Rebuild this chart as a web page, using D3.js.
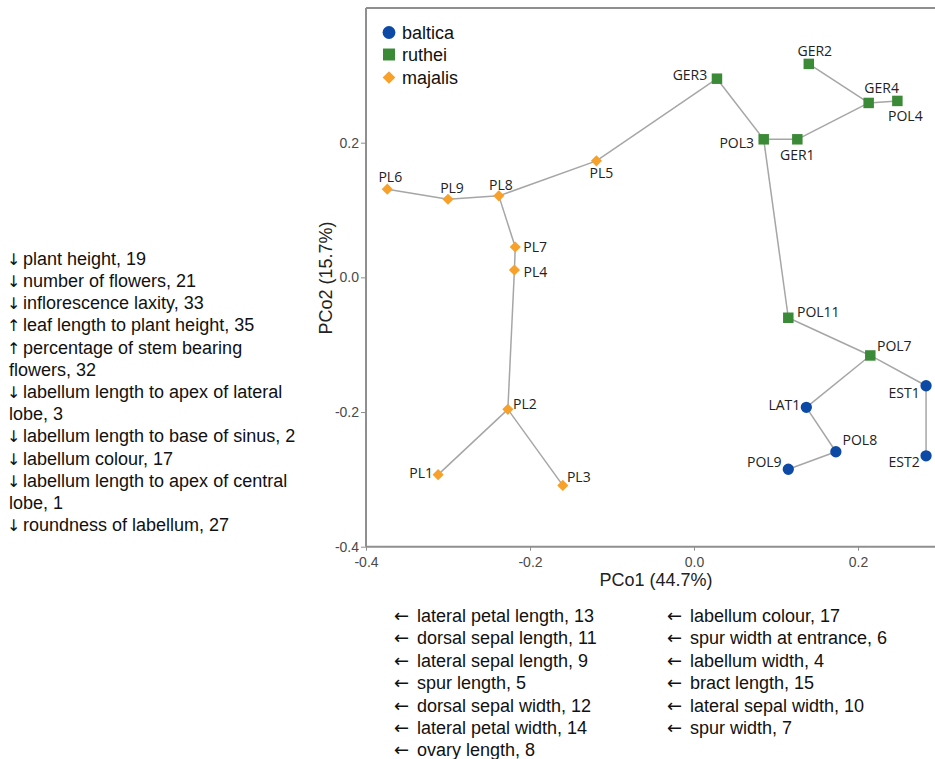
<!DOCTYPE html>
<html>
<head>
<meta charset="utf-8">
<script src="https://d3js.org/d3.v7.min.js"></script>
<style>
  body { margin: 0; background: #fff; }
  svg { display: block; }
</style>
</head>
<body>
<script>
// site labels, species and PCo scores
var sites   = ["PL6", "PL9", "PL8", "PL5", "PL7", "PL4", "PL2", "PL1", "PL3",
               "GER3", "GER2", "GER4", "POL4", "POL3", "GER1", "POL11", "POL7",
               "EST1", "EST2", "LAT1", "POL8", "POL9"];
var species = ["majalis", "majalis", "majalis", "majalis", "majalis", "majalis", "majalis", "majalis", "majalis",
               "ruthei", "ruthei", "ruthei", "ruthei", "ruthei", "ruthei", "ruthei", "ruthei",
               "baltica", "baltica", "baltica", "baltica", "baltica"];
var pco1 = [-0.374, -0.300, -0.238, -0.119, -0.218, -0.219, -0.227, -0.312, -0.160,
             0.028, 0.140, 0.213, 0.248, 0.085, 0.126, 0.115, 0.215,
             0.283, 0.283, 0.137, 0.173, 0.115];
var pco2 = [ 0.131, 0.116, 0.121, 0.173, 0.045, 0.011, -0.196, -0.293, -0.309,
             0.295, 0.317, 0.259, 0.262, 0.205, 0.205, -0.060, -0.116,
            -0.161, -0.265, -0.193, -0.259, -0.285];

// minimum spanning tree links
var links = [["PL6", "PL9"], ["PL9", "PL8"], ["PL8", "PL5"], ["PL5", "GER3"], ["GER3", "POL3"],
             ["POL3", "GER1"], ["GER1", "GER4"], ["GER4", "GER2"], ["GER4", "POL4"],
             ["POL3", "POL11"], ["POL11", "POL7"], ["POL7", "LAT1"], ["POL7", "EST1"],
             ["EST1", "EST2"], ["LAT1", "POL8"], ["POL8", "POL9"],
             ["PL8", "PL7"], ["PL7", "PL4"], ["PL4", "PL2"], ["PL2", "PL1"], ["PL2", "PL3"]];

var legendKeys = ["baltica", "ruthei", "majalis"];
var xTicks = [-0.4, -0.2, 0.0, 0.2];
var yTicks = [-0.4, -0.2, 0.0, 0.2];

var leftNotes = ["↓ plant height, 19", "↓ number of flowers, 21", "↓ inflorescence laxity, 33",
                 "↑ leaf length to plant height, 35", "↑ percentage of stem bearing", "flowers, 32",
                 "↓ labellum length to apex of lateral", "lobe, 3", "↓ labellum length to base of sinus, 2",
                 "↓ labellum colour, 17", "↓ labellum length to apex of central", "lobe, 1",
                 "↓ roundness of labellum, 27"];
var bottomNotesA = ["← lateral petal length, 13", "← dorsal sepal length, 11", "← lateral sepal length, 9",
                    "← spur length, 5", "← dorsal sepal width, 12", "← lateral petal width, 14",
                    "← ovary length, 8"];
var bottomNotesB = ["← labellum colour, 17", "← spur width at entrance, 6", "← labellum width, 4",
                    "← bract length, 15", "← lateral sepal width, 10", "← spur width, 7"];

// where each site label sits relative to its marker (px)
var labelOffset = {
  PL6: [3, -13], PL9: [4, -12], PL8: [2, -11], PL5: [5, 12], PL7: [20, -1], PL4: [21, 2],
  PL2: [17, -6], PL1: [-17, -2], PL3: [16, -9], GER3: [-27, -4], GER2: [6, -13], GER4: [13, -15],
  POL4: [8, 15], POL3: [-27, 3], GER1: [0, 15], POL11: [30, -6], POL7: [24, -10],
  EST1: [-22, 7], EST2: [-22, 6], LAT1: [-22, -3], POL8: [24, -12], POL9: [-24, -8]
};

var colors = {baltica: "#0c4aa6", ruthei: "#3b8a37", majalis: "#f7a12b"};
var shapes = {baltica: d3.symbolCircle, ruthei: d3.symbolSquare, majalis: d3.symbolSquare};
var sizes = {baltica: 100, ruthei: 110, majalis: 62};
var turn = {baltica: 0, ruthei: 0, majalis: 45};

var main = function() {
  var width = 935, height = 759;
  var plot = {left: 366, top: 8, right: 935, bottom: 546.7};

  var svg = d3.select("body")
    .append("svg")
    .attr("width", width)
    .attr("height", height)
    .style("font-family", "'Liberation Sans', Arial, sans-serif");

  var x = d3.scaleLinear().domain([-0.4, 0.3]).range([plot.left, plot.left + 574]);
  var y = d3.scaleLinear().domain([-0.4, 0.4]).range([plot.bottom, plot.top]);
  var fmt = function(v) { return d3.format(".1f")(v).replace("−", "-"); };

  var points = sites.map(function(s, i) {
    return {site: s, sp: species[i], x: pco1[i], y: pco2[i]};
  });
  var byName = {};
  points.forEach(function(p) { byName[p.site] = p; });

  // top frame line
  svg.append("line")
    .attr("x1", plot.left).attr("x2", plot.right)
    .attr("y1", plot.top).attr("y2", plot.top)
    .attr("stroke", "#8f8f8f").attr("stroke-width", 2);

  var xAxis = svg.append("g")
    .attr("transform", "translate(0," + plot.bottom + ")")
    .call(d3.axisBottom(x).tickValues(xTicks).tickFormat(fmt).tickSize(4).tickSizeOuter(0));
  var yAxis = svg.append("g")
    .attr("transform", "translate(" + plot.left + ",0)")
    .call(d3.axisLeft(y).tickValues(yTicks).tickFormat(fmt).tickSize(5).tickSizeOuter(0));

  [xAxis, yAxis].forEach(function(a) {
    a.select(".domain").attr("stroke", "#8f8f8f").attr("stroke-width", 2);
    a.selectAll(".tick line").attr("stroke", "#8f8f8f");
    a.selectAll(".tick text")
      .attr("fill", "#4a4a4a")
      .style("font-family", "'Liberation Sans Narrow', 'Liberation Sans', Arial, sans-serif")
      .style("font-size", "14px");
  });
  xAxis.select(".domain").attr("d", "M" + plot.left + ",0H" + plot.right);
  yAxis.select(".domain").attr("d", "M0," + plot.bottom + "V" + plot.top);
  xAxis.selectAll(".tick text").attr("dy", "0.95em");
  yAxis.selectAll(".tick text").attr("x", -7);

  // axis titles
  svg.append("text")
    .attr("x", 656).attr("y", 586)
    .attr("text-anchor", "middle")
    .attr("fill", "#222")
    .style("font-size", "18px")
    .text("PCo1 (44.7%)");
  svg.append("text")
    .attr("transform", "translate(332,278) rotate(-90)")
    .attr("text-anchor", "middle")
    .attr("fill", "#222")
    .style("font-size", "18px")
    .text("PCo2 (15.7%)");

  // links
  svg.append("g").selectAll("line")
    .data(links)
    .enter()
    .append("line")
    .attr("x1", function(d) { return x(byName[d[0]].x); })
    .attr("y1", function(d) { return y(byName[d[0]].y); })
    .attr("x2", function(d) { return x(byName[d[1]].x); })
    .attr("y2", function(d) { return y(byName[d[1]].y); })
    .attr("stroke", "#a6a6a6")
    .attr("stroke-width", 1.5);

  // markers
  svg.append("g").selectAll("path")
    .data(points)
    .enter()
    .append("path")
    .attr("transform", function(d) { return "translate(" + x(d.x) + "," + y(d.y) + ") rotate(" + turn[d.sp] + ")"; })
    .attr("d", function(d) { return d3.symbol().type(shapes[d.sp]).size(sizes[d.sp])(); })
    .attr("fill", function(d) { return colors[d.sp]; });

  // site labels
  svg.append("g").selectAll("text")
    .data(points)
    .enter()
    .append("text")
    .attr("x", function(d) { return x(d.x) + labelOffset[d.site][0]; })
    .attr("y", function(d) { return y(d.y) + labelOffset[d.site][1]; })
    .attr("text-anchor", "middle")
    .attr("dominant-baseline", "central")
    .attr("fill", "#222")
    .style("font-family", "'Open Sans', sans-serif")
    .style("font-size", "14px")
    .text(function(d) { return d.site; });

  // legend
  var legend = svg.append("g").selectAll("g")
    .data(legendKeys)
    .enter()
    .append("g")
    .attr("transform", function(d, i) { return "translate(389," + [32.5, 54.5, 77.5][i] + ")"; });
  legend.append("path")
    .attr("transform", function(d) { return "rotate(" + turn[d] + ")"; })
    .attr("d", function(d) { return d3.symbol().type(shapes[d]).size(sizes[d] * 1.3)(); })
    .attr("fill", function(d) { return colors[d]; });
  legend.append("text")
    .attr("x", 13)
    .attr("dy", "0.35em")
    .attr("fill", "#111")
    .style("font-size", "18px")
    .text(function(d) { return d; });

  // trait notes: arrow glyph drawn as its own text so the words line up
  var drawNotes = function(notes, x0, y0, step, gap, ax) {
    var g = svg.append("g").attr("fill", "#111").style("font-size", "18px");
    notes.forEach(function(d, i) {
      var yy = y0 + i * step;
      if ("←↑↓".indexOf(d.charAt(0)) >= 0) {
        g.append("text")
          .attr("x", x0 + ax).attr("y", yy)
          .style("font-family", "'DejaVu Sans', sans-serif")
          .style("font-size", d.charAt(0) === "←" ? "18px" : "16px")
          .text(d.charAt(0));
        g.append("text").attr("x", x0 + gap).attr("y", yy).text(d.slice(2));
      } else {
        g.append("text").attr("x", x0).attr("y", yy).text(d);
      }
    });
  };
  drawNotes(leftNotes, 9, 264.8, 22.2, 14, -2);
  drawNotes(bottomNotesA, 393, 622, 22.4, 24, 1);
  drawNotes(bottomNotesB, 666, 622, 22.4, 24, 1);
}

main();
</script>
</body>
</html>
